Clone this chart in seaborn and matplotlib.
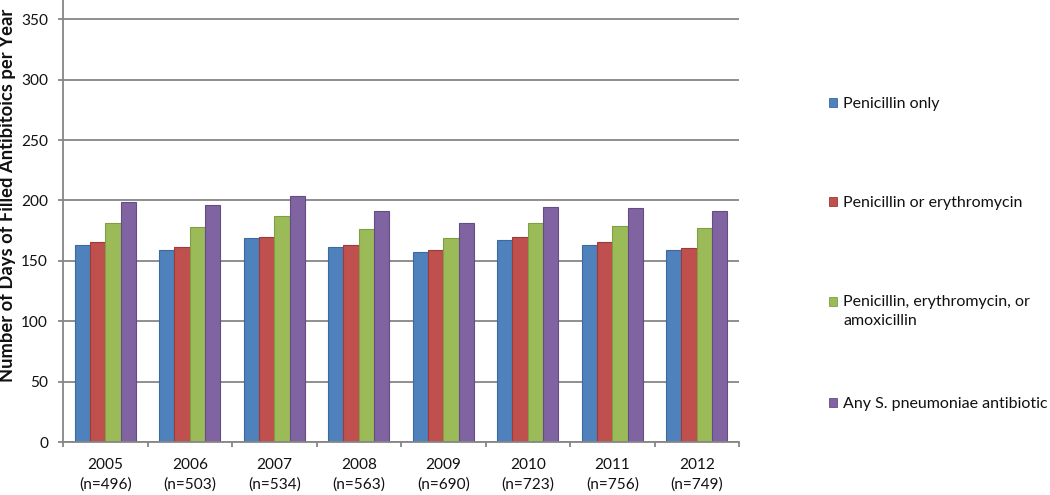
import matplotlib
matplotlib.use("Agg")
import matplotlib.pyplot as plt
from matplotlib.legend_handler import HandlerPatch
from matplotlib.patches import Patch, Rectangle
import numpy as np
import pandas as pd
import seaborn as sns

years = ["2005", "2006", "2007", "2008", "2009", "2010", "2011", "2012"]
sizes = [496, 503, 534, 563, 690, 723, 756, 749]
series = [
    "Penicillin only",
    "Penicillin or erythromycin",
    "Penicillin, erythromycin, or\namoxicillin",
    "Any S. pneumoniae antibiotic",
]
penicillin_only = [163.5, 159, 169, 161.5, 157, 167.5, 163.5, 159]
pen_or_ery = [166, 161.5, 170, 163, 159, 169.5, 166, 161]
pen_ery_amox = [181, 178, 187, 176, 169, 181, 179, 177]
any_antibiotic = [199, 196, 204, 191, 181.5, 194.5, 194, 191.5]

colors = ["#4F81BD", "#C0504D", "#9BBB59", "#8064A2"]
edges = ["#3A6A9E", "#9E3A37", "#7F9F45", "#654C85"]
ylabel = "Number of Days of Filled Antibitoics per Year"

labels = [f"{y}\n(n={n})" for y, n in zip(years, sizes)]
values = [penicillin_only, pen_or_ery, pen_ery_amox, any_antibiotic]
df = pd.DataFrame({
    "year": np.tile(labels, len(series)),
    "series": np.repeat(series, len(years)),
    "days": np.concatenate(values),
})

sns.set_theme(style="white")
plt.rcParams["font.family"] = ["Lato", "DejaVu Sans"]

W, H = 1050, 495
fig = plt.figure(figsize=(W / 100, H / 100), dpi=100)
renderer = fig.canvas.get_renderer()


def text_box(s, size, weight="normal"):
    t = fig.text(0, 0, s, fontsize=size, fontweight=weight)
    bb = t.get_window_extent(renderer)
    t.remove()
    return bb.width, bb.height


def fit_size(s, target_px, weight="normal"):
    # pick the font size that gives the text the pixel width seen in the reference
    w, _ = text_box(s, 10, weight)
    return 10 * target_px / w


xtick_size = fit_size("(n=496)", 52.7)
ytick_size = fit_size("350", 26.7)
ylabel_size = fit_size(ylabel, 374, "bold")
legend_size = fit_size("Any S. pneumoniae antibiotic", 206)

# plot area in reference pixels
left, right, bottom = 63, 739, 442
ax = fig.add_axes([left / W, (H - bottom) / H, (right - left) / W, bottom / H])

sns.barplot(data=df, x="year", y="days", hue="series", palette=colors,
            width=0.725, gap=0, ax=ax, legend=False, saturation=1)
for i, container in enumerate(ax.containers):
    for bar in container:
        bar.set_edgecolor(edges[i])
        bar.set_linewidth(0.8)

ax.set_ylim(0, 366)
ax.set_xlim(-0.5, len(years) - 0.5)
ax.set_yticks(np.arange(0, 351, 50))
ax.yaxis.grid(True, color="#868686", linewidth=1.3)
ax.set_axisbelow(True)
for side in ["top", "right"]:
    ax.spines[side].set_visible(False)
for side in ["left", "bottom"]:
    ax.spines[side].set_color("#868686")
    ax.spines[side].set_linewidth(1.3)

ax.tick_params(axis="y", left=True, length=3.6, color="#868686", width=1.3,
               labelsize=ytick_size, labelcolor="#111111", pad=7.2)

# x tick labels: two lines, first centred at 465 px and second at 486 px
_, h1 = text_box("2005", xtick_size)
_, h2 = text_box("2005\n(n=496)", xtick_size)
spacing = 1.2 * 21 / (h2 - h1)
xpad = (465 - h1 / 2 - bottom) * 0.72
ax.tick_params(axis="x", which="major", length=0, labelsize=xtick_size,
               labelcolor="#111111", pad=xpad, labelbottom=True)
ax.set_xticks(np.arange(-0.5, len(years)), minor=True)
ax.tick_params(axis="x", which="minor", bottom=True, length=3.6,
               color="#868686", width=1.3)
for t in ax.get_xticklabels():
    t.set_linespacing(spacing)

ax.set_xlabel("")
ax.set_ylabel(ylabel, fontsize=ylabel_size, fontweight="bold", color="#111111")
ax.yaxis.label.set_verticalalignment("baseline")
ax.yaxis.set_label_coords((13.3 - left) / (right - left), (bottom - 195) / bottom)


def first_line_square(legend, orig_handle, xdescent, ydescent, width, height, fontsize):
    # the two-line entry keeps its square level with the first line, as in the reference
    return Rectangle((-xdescent, -ydescent + 7.2), width, height)


# one legend per entry so the rows sit where the reference has them
fs_px = legend_size * 100 / 72
_, lh1 = text_box("Penicillin only", legend_size)
_, lh2 = text_box(series[2], legend_size)
legend_spacing = 1.2 * 20 / (lh2 - lh1)
entry_centres = [104, 203, 302, 404]
for handle_color, edge_color, label, centre in zip(colors, edges, series, entry_centres):
    handle = Patch(facecolor=handle_color, edgecolor=edge_color, linewidth=0.6)
    handler = {}
    if "\n" in label:
        handler = {Patch: HandlerPatch(patch_func=first_line_square)}
    leg = fig.legend([handle], [label], loc="upper left",
                     bbox_to_anchor=(829 / W, 1 - (centre - lh1 / 2) / H),
                     frameon=False, fontsize=legend_size,
                     handlelength=8 / fs_px, handleheight=8 / fs_px,
                     handletextpad=6 / fs_px, labelcolor="#111111",
                     borderaxespad=0, borderpad=0, handler_map=handler)
    for t in leg.get_texts():
        t.set_linespacing(legend_spacing)

fig.savefig("out.png", dpi=100)
